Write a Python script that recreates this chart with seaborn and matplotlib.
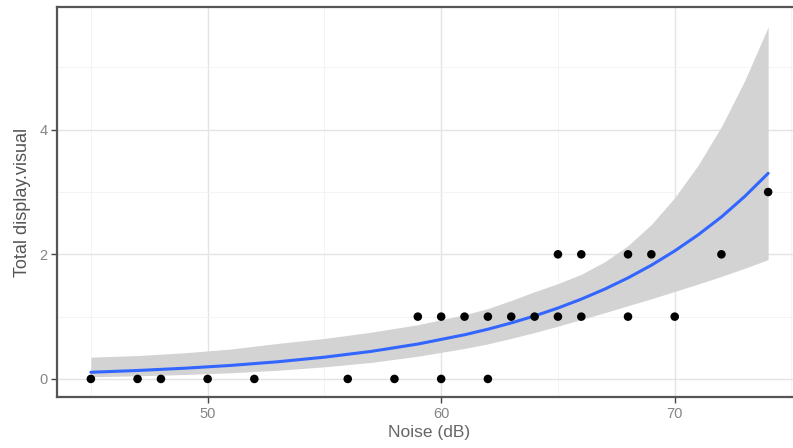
import pandas as pd
import matplotlib
matplotlib.use("Agg")
import matplotlib.pyplot as plt
import seaborn as sns

noise_db = [45, 47, 48, 50, 52, 56, 58, 60, 62,
            59, 60, 61, 62, 63, 64, 65, 66, 68, 70,
            65, 66, 68, 69, 72,
            74]
total_visual = [0, 0, 0, 0, 0, 0, 0, 0, 0,
                1, 1, 1, 1, 1, 1, 1, 1, 1, 1,
                2, 2, 2, 2, 2,
                3]

# smoother (poisson glm) and its 95% band
smooth_x = [45, 47, 49, 51, 53, 55, 57, 59, 61,
            62, 63, 64, 65, 66, 67, 68, 69, 70, 71, 72, 73, 74]
smooth_fit = [0.107, 0.1355, 0.1717, 0.217, 0.2755, 0.349, 0.442, 0.560, 0.709,
              0.798, 0.899, 1.011, 1.138, 1.281, 1.441, 1.622, 1.825, 2.055,
              2.312, 2.60, 2.93, 3.30]
smooth_lo = [0.035, 0.05, 0.071, 0.099, 0.139, 0.194, 0.265, 0.364, 0.489,
             0.563, 0.651, 0.745, 0.847, 0.954, 1.062, 1.175, 1.287, 1.404,
             1.523, 1.646, 1.777, 1.915]
smooth_hi = [0.35, 0.375, 0.42, 0.48, 0.57, 0.65, 0.75, 0.87, 1.03,
             1.13, 1.26, 1.40, 1.53, 1.68, 1.88, 2.14, 2.48, 2.91,
             3.43, 4.05, 4.79, 5.65]

x_ticks = [50, 60, 70]
y_ticks = [0, 2, 4]

points = pd.DataFrame({"noise": noise_db, "visual": total_visual})
smooth = pd.DataFrame({"noise": smooth_x, "visual": smooth_fit,
                       "lo": smooth_lo, "hi": smooth_hi})

sns.set_theme(style="white")
plt.rcParams["font.family"] = ["Liberation Sans", "DejaVu Sans"]

fig = plt.figure(figsize=(7.93, 4.48), dpi=100)
ax = fig.add_axes([57 / 793, 51 / 448, 745 / 793, 390 / 448])

ax.set_xticks([45, 55, 65, 75], minor=True)
ax.set_yticks([1, 3, 5], minor=True)
ax.grid(which="major", color="#e4e4e4", linewidth=1.0)
ax.grid(which="minor", color="#f3f3f3", linewidth=0.6)
ax.set_axisbelow(True)

ax.fill_between(smooth.noise, smooth.lo, smooth.hi, color="#d3d3d3",
                linewidth=0, zorder=2)
sns.lineplot(data=smooth, x="noise", y="visual", color="#3366FF",
             linewidth=2.2, ax=ax, zorder=3)
sns.scatterplot(data=points, x="noise", y="visual", color="black", s=38,
                edgecolor="none", ax=ax, zorder=4)

ax.set_xlim(43.55, 75.45)
ax.set_ylim(-0.29, 5.97)
ax.set_xticks(x_ticks)
ax.set_yticks(y_ticks)
ax.set_xticklabels([str(t) for t in x_ticks])
ax.set_yticklabels([str(t) for t in y_ticks])
ax.tick_params(which="major", length=4, width=1, color="#444444",
               labelcolor="#858585", labelsize=10.5, pad=3,
               bottom=True, left=True)
ax.tick_params(which="minor", length=0)

for sp in ax.spines.values():
    sp.set_color("#555555")
    sp.set_linewidth(1.6)

ax.set_xlabel("Noise (dB)", fontsize=12.5, color="#666666", labelpad=3)
ax.set_ylabel("Total display.visual", fontsize=13, color="#555555", labelpad=6)

fig.savefig("out.png", dpi=100)
